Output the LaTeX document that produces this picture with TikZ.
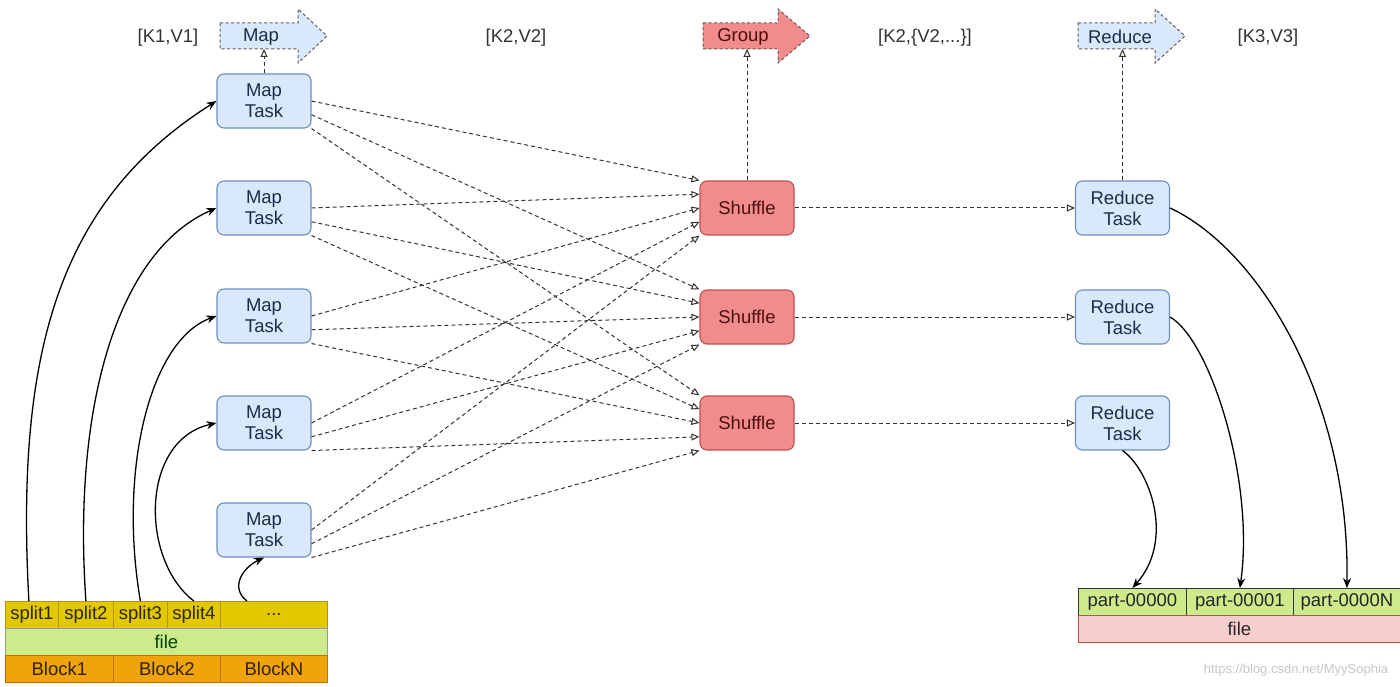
\documentclass[tikz,border=0pt]{standalone}
\usepackage{fontspec}
\setmainfont{Liberation Sans}
\usetikzlibrary{arrows.meta,calc}
\definecolor{mapfill}{HTML}{DAE8FC}
\definecolor{mapdraw}{HTML}{6C8EBF}
\definecolor{shfill}{HTML}{F28C8C}
\definecolor{shdraw}{HTML}{B85450}
\definecolor{yel}{HTML}{E3C800}
\definecolor{yeldraw}{HTML}{B09500}
\definecolor{grn}{HTML}{CDEB8B}
\definecolor{grndraw}{HTML}{8FA86A}
\definecolor{org}{HTML}{F0A30A}
\definecolor{orgdraw}{HTML}{BD7000}
\definecolor{pinkf}{HTML}{F8CECC}
\definecolor{ln}{HTML}{333333}
\definecolor{bluetxt}{HTML}{1C2C4A}
\definecolor{redtxt}{HTML}{4A1010}
\begin{document}
\begin{tikzpicture}[x=1pt,y=-1pt,
  every node/.style={font=\fontsize{18.5}{21}\selectfont},
  task/.style={draw=mapdraw, fill=mapfill, rounded corners=7pt, minimum width=94pt,
    minimum height=54pt, line width=1.1pt, align=center, inner sep=0pt, text=bluetxt},
  shuf/.style={task, draw=shdraw, fill=shfill, text=redtxt},
  cell/.style={draw, minimum height=27pt, anchor=north west, inner sep=0pt, line width=0.8pt},
  ycell/.style={cell, fill=yel, draw=yeldraw, text=black!80!yel},
  gcell/.style={cell, fill=grn, draw=grndraw, text=black!75!green},
  ocell/.style={cell, fill=org, draw=orgdraw, text=black!80!org},
  pcell/.style={cell, fill=grn, draw=ln, text=black!85},
  fcell/.style={cell, fill=pinkf, draw=shdraw, text=black!85},
  bigarr/.style={draw=ln!80, dash pattern=on 3pt off 2.5pt, line width=1pt},
  kvlabel/.style={text=ln},
  dasharr/.style={draw=ln, line width=1pt, dash pattern=on 4pt off 3pt,
    -{Triangle[open,length=8pt,width=7pt]}},
  solidarr/.style={draw=black, line width=1.3pt, -{Stealth[length=10pt,width=8pt]}}
]
\useasboundingbox (0,0) rectangle (1400,687);
\fill[white] (0,0) rectangle (1400,687);

% top labels
\node[kvlabel] (k1) at (168,38) {[K1,V1]};
\node[kvlabel] (k2) at (516,38) {[K2,V2]};
\node[kvlabel] (k3) at (925,38) {[K2,\{V2,...\}]};
\node[kvlabel] (k4) at (1268,38) {[K3,V3]};

% big arrows
\path[bigarr, fill=mapfill] (220,23) -- (298,23) -- (298,9) -- (327,36) -- (298,63) -- (298,49) -- (220,49) -- cycle;
\path[bigarr, fill=shfill] (703,23) -- (778,23) -- (778,9) -- (810,36) -- (778,63) -- (778,49) -- (703,49) -- cycle;
\path[bigarr, fill=mapfill] (1078,23) -- (1155,23) -- (1155,9) -- (1185,36) -- (1155,63) -- (1155,49) -- (1078,49) -- cycle;
\node[text=bluetxt] (maplab) at (261,37) {Map};
\node[text=redtxt] (grplab) at (743,37) {Group};
\node[text=bluetxt] (redlab) at (1120,37) {Reduce};
\coordinate (mapin) at (264,49);
\coordinate (grpin) at (747,49);
\coordinate (redin) at (1122.5,49);

% map tasks
\node[task] (mt1) at (264,101) {Map\\Task};
\node[task] (mt2) at (264,208) {Map\\Task};
\node[task] (mt3) at (264,316) {Map\\Task};
\node[task] (mt4) at (264,423) {Map\\Task};
\node[task] (mt5) at (264,530) {Map\\Task};

% shuffles
\node[shuf] (sh1) at (747,208) {Shuffle};
\node[shuf] (sh2) at (747,317) {Shuffle};
\node[shuf] (sh3) at (747,423) {Shuffle};

% reduce tasks
\node[task] (rt1) at (1122.5,208) {Reduce\\Task};
\node[task] (rt2) at (1122.5,317) {Reduce\\Task};
\node[task] (rt3) at (1122.5,423) {Reduce\\Task};

% left table
\node[ycell, minimum width=53pt] (s1) at (5,601) {split1};
\node[ycell, minimum width=55pt] (s2) at (58,601) {split2};
\node[ycell, minimum width=54pt] (s3) at (113,601) {split3};
\node[ycell, minimum width=53pt] (s4) at (167,601) {split4};
\node[ycell, minimum width=107pt] (sd) at (220,601) {...};
\node[gcell, minimum width=322pt] (lf) at (5,628) {file};
\node[ocell, minimum width=108pt] (b1) at (5,655) {Block1};
\node[ocell, minimum width=107pt] (b2) at (113,655) {Block2};
\node[ocell, minimum width=107pt] (bn) at (220,655) {BlockN};

% right table
\node[pcell, minimum width=108pt] (p1) at (1078,588) {part-00000};
\node[pcell, minimum width=107pt] (p2) at (1186,588) {part-00001};
\node[pcell, minimum width=107pt] (p3) at (1293,588) {part-0000N};
\node[fcell, minimum width=322pt] (rf) at (1078,615) {file};

% watermark
\node[font=\fontsize{13}{15}\selectfont, text=black!22] (wm) at (1296,670) {https://blog.csdn.net/MyySophia};

% vertical dashed connectors to big arrows
\draw[dasharr] (mt1.north) -- (mapin);
\draw[dasharr] (sh1.north) -- (grpin);
\draw[dasharr] (rt1.north) -- (redin);

% map -> shuffle
\foreach \i in {1,...,5}{
  \foreach \j in {1,2,3}{
    \pgfmathsetmacro\fa{0.25+0.25*\j}
    \pgfmathsetmacro\fb{(\i-1)/4}
    \draw[dasharr] ($(mt\i.north east)!\fa!(mt\i.south east)$) -- ($(sh\j.north west)!\fb!(sh\j.south west)$);
  }
}

% shuffle -> reduce
\foreach \j in {1,2,3}{
  \draw[dasharr] (sh\j.east) -- (rt\j.west);
}

% splits -> map tasks
\draw[solidarr] ($(s1.north)+(-3,0)$) .. controls (15,350) and (60,200) .. (mt1.west);
\draw[solidarr] (s2.north) .. controls (72,400) and (120,250) .. (mt2.west);
\draw[solidarr] (s3.north) .. controls (118,470) and (150,340) .. (mt3.west);
\draw[solidarr] (s4.north) .. controls (140,560) and (140,440) .. (mt4.west);
\draw[solidarr] ($(sd.north west)!0.25!(sd.north east)$) .. controls (230,588) and (242,568) .. (mt5.south);

% reduce tasks -> parts
\draw[solidarr] (rt1.east) .. controls (1260,250) and (1350,400) .. (p3.north);
\draw[solidarr] (rt2.east) .. controls (1210,340) and (1255,480) .. (p2.north);
\draw[solidarr] (rt3.south) .. controls (1150,470) and (1175,540) .. (p1.north);
\end{tikzpicture}
\end{document}
